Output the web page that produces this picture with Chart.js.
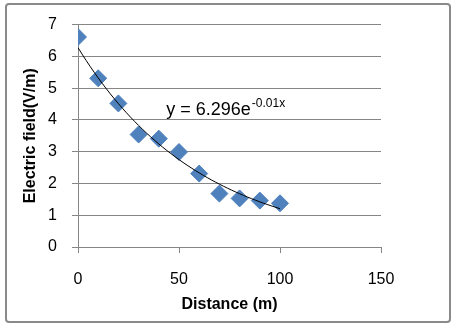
<!DOCTYPE html>
<html>
<head>
<meta charset="utf-8">
<script src="https://cdn.jsdelivr.net/npm/chart.js@4/dist/chart.umd.min.js"></script>
<style>
  html, body { margin: 0; padding: 0; background: #fff; }
  #wrap { width: 455px; height: 327px; position: relative; }
</style>
</head>
<body>
<div id="wrap"><canvas id="chart"></canvas></div>
<script>
// datos
const distances = [0, 10, 20, 30, 40, 50, 60, 70, 80, 90, 100];
const fieldValues = [6.61, 5.31, 4.52, 3.54, 3.41, 2.99, 2.31, 1.68, 1.53, 1.46, 1.375];
const xTicks = [0, 50, 100, 150];
const yTicks = [0, 1, 2, 3, 4, 5, 6, 7];
const equationText = "y = 6.296e";
const equationExp = "-0.01x";

// ajuste exponencial (minimos cuadrados sobre ln y), como la linea de tendencia de Excel
function expFit(xs, ys) {
  const n = xs.length;
  const ly = ys.map(v => Math.log(v));
  const mx = xs.reduce((a, b) => a + b, 0) / n;
  const my = ly.reduce((a, b) => a + b, 0) / n;
  let sxy = 0, sxx = 0;
  for (let i = 0; i < n; i++) {
    sxy += (xs[i] - mx) * (ly[i] - my);
    sxx += (xs[i] - mx) * (xs[i] - mx);
  }
  const k = sxy / sxx;
  return { a: Math.exp(my - k * mx), k: k };
}

const fit = expFit(distances, fieldValues);
const trendPoints = [];
for (let x = distances[0]; x <= distances[distances.length - 1]; x += 2) {
  trendPoints.push({ x: x, y: fit.a * Math.exp(fit.k * x) });
}

const gray = "#868686";
Chart.defaults.font.family = "'Liberation Sans', Arial, sans-serif";
Chart.defaults.color = "#000";

// marco exterior redondeado
const framePlugin = {
  id: "frame",
  beforeDraw(chart) {
    const ctx = chart.ctx;
    ctx.save();
    ctx.fillStyle = "#fff";
    ctx.fillRect(0, 0, chart.width, chart.height);
    ctx.strokeStyle = "#8a8a8a";
    ctx.lineWidth = 2;
    ctx.beginPath();
    ctx.roundRect(6, 4, 444, 318, 3);
    ctx.stroke();
    ctx.restore();
  }
};

// etiqueta de la ecuacion
const equationPlugin = {
  id: "equation",
  afterDatasetsDraw(chart) {
    const ctx = chart.ctx;
    const px = chart.scales.x.getPixelForValue(43.7);
    const py = chart.scales.y.getPixelForValue(4.17);
    ctx.save();
    ctx.fillStyle = "#000";
    ctx.textBaseline = "alphabetic";
    ctx.font = "18px 'Liberation Sans', Arial, sans-serif";
    ctx.fillText(equationText, px, py);
    const w = ctx.measureText(equationText).width;
    ctx.font = "12px 'Liberation Sans', Arial, sans-serif";
    ctx.fillText(equationExp, px + w + 1, py - 8);
    ctx.restore();
  }
};

new Chart(document.getElementById("chart"), {
  type: "scatter",
  data: {
    datasets: [
      {
        label: "Tendencia",
        data: trendPoints,
        showLine: true,
        borderColor: "#000",
        borderWidth: 1,
        pointRadius: 0,
        tension: 0
      },
      {
        label: "Campo",
        data: distances.map((d, i) => ({ x: d, y: fieldValues[i] })),
        pointStyle: "rectRot",
        pointRadius: 8.5,
        pointBackgroundColor: "#4F81BD",
        pointBorderColor: "#4F81BD",
        pointBorderWidth: 1
      }
    ]
  },
  plugins: [framePlugin, equationPlugin],
  options: {
    responsive: true,
    maintainAspectRatio: false,
    animation: false,
    layout: { padding: { top: 23, right: 74, left: 0, bottom: 0 } },
    plugins: {
      legend: { display: false },
      tooltip: { enabled: false }
    },
    scales: {
      x: {
        type: "linear",
        min: xTicks[0],
        max: xTicks[xTicks.length - 1],
        afterBuildTicks(scale) { scale.ticks = xTicks.map(v => ({ value: v })); },
        afterFit(scale) { scale.height = 80; },
        border: { color: gray, width: 1 },
        grid: { drawOnChartArea: false, drawTicks: true, tickLength: 6, color: gray },
        ticks: { font: { size: 16 }, padding: 17, maxRotation: 0 },
        title: {
          display: true,
          text: "Distance (m)",
          font: { size: 16, weight: "bold" },
          padding: { top: 0, bottom: 13 }
        }
      },
      y: {
        type: "linear",
        min: yTicks[0],
        max: yTicks[yTicks.length - 1],
        afterBuildTicks(scale) { scale.ticks = yTicks.map(v => ({ value: v })); },
        afterFit(scale) { scale.width = 78; },
        border: { color: gray, width: 1 },
        grid: { color: gray, tickLength: 6, drawTicks: true },
        ticks: { font: { size: 16 }, padding: 15 },
        title: {
          display: true,
          text: "Electric field(V/m)",
          font: { size: 16, weight: "bold" },
          padding: { top: 21, bottom: 0 }
        }
      }
    }
  }
});
</script>
</body>
</html>
